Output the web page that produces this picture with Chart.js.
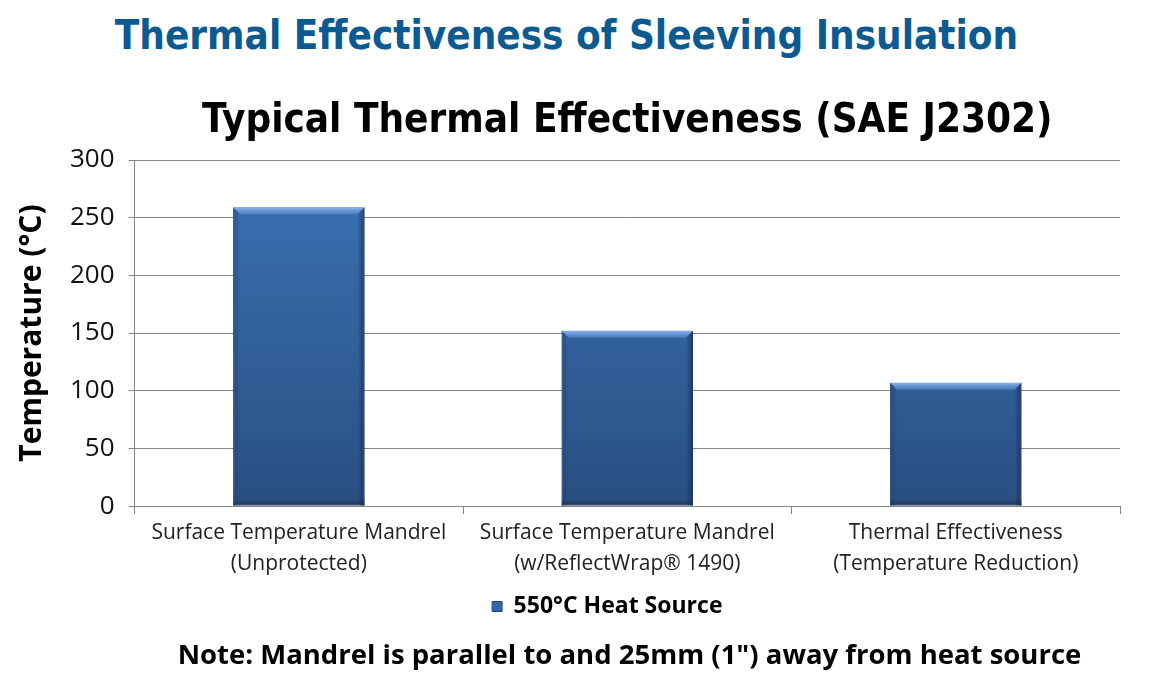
<!DOCTYPE html>
<html>
<head>
<meta charset="utf-8">
<script src="https://cdn.jsdelivr.net/npm/chart.js@4.4.1/dist/chart.umd.min.js"></script>
<style>
  html, body { margin: 0; padding: 0; background: #fff; }
  #wrap { position: relative; width: 1151px; height: 696px; overflow: hidden; }
  #chart { position: absolute; left: 0; top: 0; }
  .head {
    position: absolute; left: 0; width: 1151px; text-align: center; white-space: nowrap;
    font-family: "Liberation Sans Narrow", "DejaVu Sans Condensed", "Open Sans", sans-serif;
  }
  #pageTitle { top: 12px; left: -9px; font-size: 40px; font-weight: bold; color: #0b5a91; }
  #note { top: 635px; left: 54px; font-size: 27.5px; font-weight: bold; color: #000;
    font-family: "Open Sans", sans-serif; }
</style>
</head>
<body>
<div id="wrap">
  <div id="pageTitle" class="head">Thermal Effectiveness of Sleeving Insulation</div>
  <canvas id="chart" width="1151" height="696"></canvas>
  <div id="note" class="head">Note: Mandrel is parallel to and 25mm (1") away from heat source</div>
</div>
<script>
// البيانات
const categories = [
    ["Surface Temperature Mandrel", "(Unprotected)"],
    ["Surface Temperature Mandrel", "(w/ReflectWrap\u00AE 1490)"],
    ["Thermal Effectiveness", "(Temperature Reduction)"]
];
const seriesName = "550\u00B0C Heat Source";
const temperatures = [259, 152, 107];
const yTicks = [0, 50, 100, 150, 200, 250, 300];

const condensed = "'Liberation Sans Narrow', 'DejaVu Sans Condensed', 'Open Sans', sans-serif";

// تدرج لون الأعمدة
function barFill(context) {
    const chart = context.chart;
    const area = chart.chartArea;
    if (!area) return "#3267a8";
    const g = chart.ctx.createLinearGradient(0, area.top, 0, area.bottom);
    g.addColorStop(0, "#3b73b6");
    g.addColorStop(1, "#2a4f82");
    return g;
}

// حواف بارزة للأعمدة
const bevelPlugin = {
    id: "bevel",
    afterLayout(chart) {
        // إزاحة وسيلة الإيضاح قليلاً لليسار
        chart.legend.left -= 20;
        chart.legend.right -= 20;
    },
    afterDatasetsDraw(chart) {
        const ctx = chart.ctx;
        chart.getDatasetMeta(0).data.forEach(bar => {
            const p = bar.getProps(["x", "y", "base", "width"], true);
            const l = p.x - p.width / 2, r = p.x + p.width / 2, t = p.y, b = p.base;
            const d = 7;
            ctx.save();
            // top strip
            let g = ctx.createLinearGradient(0, t, 0, t + d);
            g.addColorStop(0, "rgba(140,185,240,0.95)");
            g.addColorStop(1, "rgba(90,140,210,0.6)");
            ctx.fillStyle = g;
            ctx.beginPath();
            ctx.moveTo(l, t); ctx.lineTo(r, t); ctx.lineTo(r - d, t + d); ctx.lineTo(l + d, t + d);
            ctx.closePath(); ctx.fill();
            // left strip
            g = ctx.createLinearGradient(l, 0, l + d, 0);
            g.addColorStop(0, "rgba(30,60,105,0.55)");
            g.addColorStop(1, "rgba(30,60,105,0)");
            ctx.fillStyle = g;
            ctx.beginPath();
            ctx.moveTo(l, t); ctx.lineTo(l + d, t + d); ctx.lineTo(l + d, b); ctx.lineTo(l, b);
            ctx.closePath(); ctx.fill();
            // right strip
            g = ctx.createLinearGradient(r, 0, r - d, 0);
            g.addColorStop(0, "rgba(20,45,85,0.75)");
            g.addColorStop(1, "rgba(20,45,85,0)");
            ctx.fillStyle = g;
            ctx.beginPath();
            ctx.moveTo(r, t); ctx.lineTo(r - d, t + d); ctx.lineTo(r - d, b); ctx.lineTo(r, b);
            ctx.closePath(); ctx.fill();
            // bottom strip
            g = ctx.createLinearGradient(0, b, 0, b - d);
            g.addColorStop(0, "rgba(20,40,75,0.6)");
            g.addColorStop(1, "rgba(20,40,75,0)");
            ctx.fillStyle = g;
            ctx.fillRect(l, b - d, r - l, d);
            ctx.restore();
        });
    }
};

const ctx = document.getElementById("chart").getContext("2d");

new Chart(ctx, {
    type: "bar",
    data: {
        labels: categories,
        datasets: [{
            label: seriesName,
            data: temperatures,
            backgroundColor: barFill,
            borderColor: "#244a7c",
            borderWidth: 1,
            borderSkipped: false,
            categoryPercentage: 1,
            barPercentage: 0.4
        }]
    },
    options: {
        responsive: false,
        animation: false,
        devicePixelRatio: 1,
        layout: { padding: { top: 98, right: 31, bottom: 68, left: 14 } },
        plugins: {
            title: {
                display: true,
                fullSize: false,
                text: "Typical Thermal Effectiveness (SAE J2302)",
                color: "#000",
                font: { family: condensed, size: 40, weight: "bold" },
                padding: { top: 0, bottom: 14 }
            },
            legend: {
                position: "bottom",
                fullSize: false,
                labels: {
                    color: "#000",
                    font: { family: "'Open Sans', sans-serif", size: 23, weight: "bold" },
                    boxWidth: 10,
                    boxHeight: 10,
                    padding: 12,
                    generateLabels(chart) {
                        return [{
                            text: seriesName,
                            fillStyle: "#3267a8",
                            strokeStyle: "#244a7c",
                            lineWidth: 1,
                            datasetIndex: 0
                        }];
                    }
                }
            },
            tooltip: { enabled: false }
        },
        scales: {
            x: {
                grid: {
                    offset: true,
                    drawOnChartArea: false,
                    color: "#868686",
                    tickLength: 8
                },
                border: { color: "#868686", width: 1 },
                ticks: {
                    color: "#222",
                    font: { family: "'Open Sans', sans-serif", size: 21, lineHeight: 1.45 },
                    padding: 4,
                    maxRotation: 0
                }
            },
            y: {
                min: 0,
                max: 300,
                afterBuildTicks(axis) {
                    axis.ticks = yTicks.map(v => ({ value: v }));
                },
                grid: {
                    color: "#868686",
                    lineWidth: 1,
                    tickLength: 6
                },
                border: { color: "#868686", width: 1 },
                ticks: {
                    color: "#111",
                    font: { family: "'Open Sans', sans-serif", size: 26 },
                    padding: 14
                },
                title: {
                    display: true,
                    text: "Temperature (\u00B0C)",
                    color: "#000",
                    font: { family: "'Open Sans', sans-serif", size: 30, weight: "bold" },
                    padding: { top: 0, bottom: 6 }
                }
            }
        }
    },
    plugins: [bevelPlugin]
});
</script>
</body>
</html>
